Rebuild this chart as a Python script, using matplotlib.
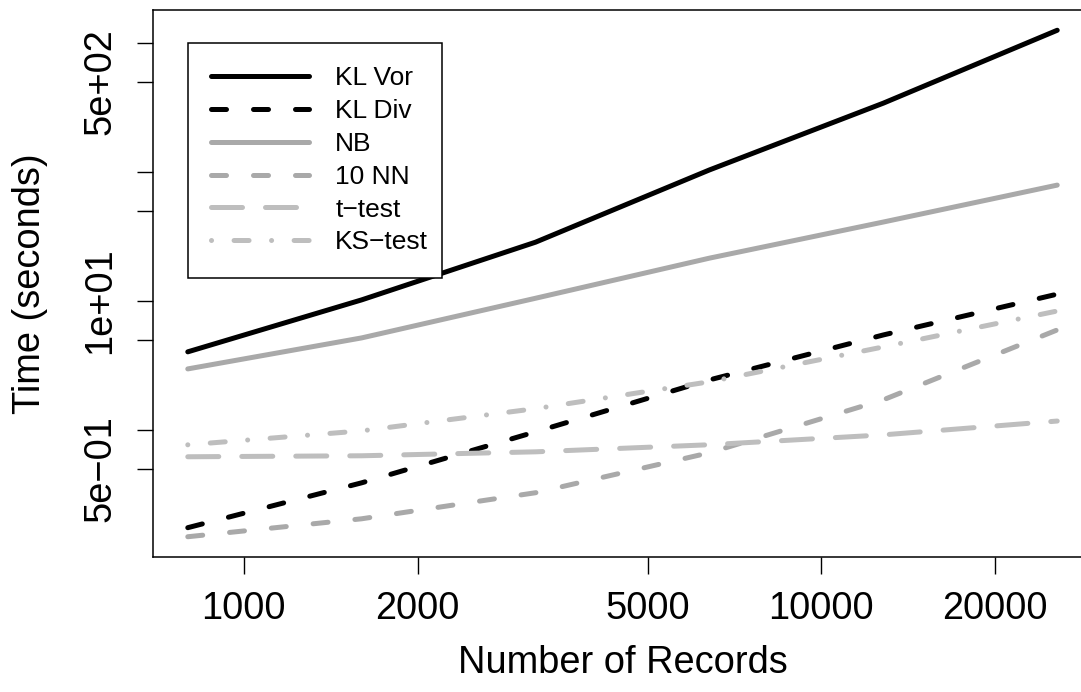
import numpy as np
import matplotlib
matplotlib.use("Agg")
import matplotlib.pyplot as plt

plt.rcParams['font.family'] = ['Liberation Sans', 'DejaVu Sans']

# data
records = [800, 1600, 3200, 6400, 12800, 25600]
kl_vor = [4.03, 10.2, 28.6, 104, 343, 1262]
kl_div = [0.174, 0.388, 0.965, 2.44, 5.45, 11.3]
nb = [2.97, 5.17, 10.5, 21.5, 41, 79.3]
nn10 = [0.148, 0.204, 0.325, 0.664, 1.71, 5.96]
t_test = [0.618, 0.629, 0.675, 0.766, 0.914, 1.17]
ks_test = [0.765, 0.982, 1.46, 2.36, 4.40, 8.36]

labels = ["KL Vor", "KL Div", "NB", "10 NN", "t\u2212test", "KS\u2212test"]
series = [kl_vor, kl_div, nb, nn10, t_test, ks_test]
colors = ["black", "black", "#A9A9A9", "#A9A9A9", "#BEBEBE", "#BEBEBE"]
dashes = [None, (3, 5.4), None, (3, 5.4), (6.2, 4.6), (0.01, 4.5, 3, 4.5)]

x_ticks = [1000, 2000, 5000, 10000, 20000]
y_ticks = [0.5, 1, 5, 10, 50, 100, 500, 1000]
y_ticklabels = ["5e\u221201", "", "", "1e+01", "", "", "5e+02", ""]

W, H = 1081, 692
fig = plt.figure(figsize=(W / 100, H / 100), dpi=100)
left, right, top, bottom = 153, 1092, 10, 557
ax = fig.add_axes([left / W, 1 - bottom / H, (right - left) / W, (bottom - top) / H])

lw = 3.6
for y, lab, c, d in zip(series, labels, colors, dashes):
    line, = ax.plot(records, y, color=c, lw=lw, label=lab,
                    solid_capstyle='round', dash_capstyle='round')
    if d is not None:
        line.set_dashes(d)

ax.set_xscale('log')
ax.set_yscale('log')

# R-style 4% extension in log space
def lims(v):
    lo, hi = np.log10(np.min(v)), np.log10(np.max(v))
    e = (hi - lo) * 0.04
    return 10 ** (lo - e), 10 ** (hi + e)

ax.set_xlim(*lims(records))
ax.set_ylim(*lims(np.concatenate([np.array(s) for s in series])))

ax.xaxis.set_major_locator(matplotlib.ticker.FixedLocator(x_ticks))
ax.xaxis.set_minor_locator(matplotlib.ticker.NullLocator())
ax.set_xticklabels([str(t) for t in x_ticks])
ax.yaxis.set_major_locator(matplotlib.ticker.FixedLocator(y_ticks))
ax.yaxis.set_minor_locator(matplotlib.ticker.NullLocator())
ax.set_yticklabels(y_ticklabels, rotation=90, va='center')

fs = 27.4
ax.tick_params(axis='x', length=12.2, width=1, pad=12, labelsize=fs)
ax.tick_params(axis='y', length=11.5, width=1, pad=13.5, labelsize=fs)
for s in ax.spines.values():
    s.set_linewidth(1.1)
ax.spines['right'].set_visible(False)

fig.text((left + right) / 2 / W, 1 - 673 / H, "Number of Records",
         ha='center', va='baseline', fontsize=fs)
fig.text(30.5 / W, 1 - (top + bottom) / 2 / H, "Time (seconds)",
         ha='center', va='center', rotation=90, fontsize=fs)

leg = ax.legend(loc='upper left',
                bbox_to_anchor=(188 / W, 1 - 43 / H, (442 - 188) / W, 0),
                bbox_transform=fig.transFigure, mode='expand',
                borderaxespad=0, fontsize=19, handlelength=3.7,
                handletextpad=1.0, labelspacing=0.335, borderpad=0.88,
                fancybox=False, framealpha=1)
leg.get_frame().set_edgecolor('black')
leg.get_frame().set_linewidth(1.1)

fig.savefig("out.png", dpi=100)
